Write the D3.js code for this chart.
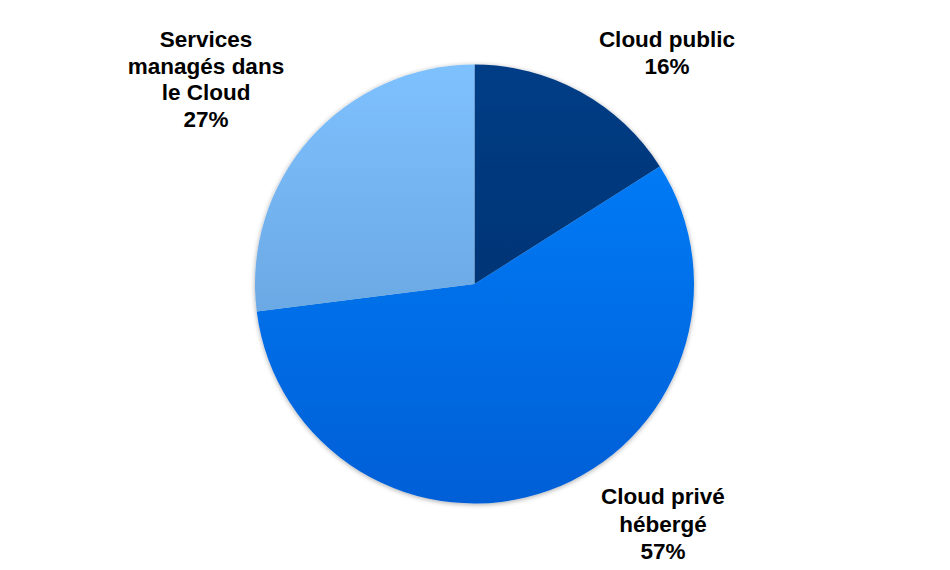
<!DOCTYPE html>
<html><head><meta charset="utf-8">
<script src="https://cdn.jsdelivr.net/npm/d3@7"></script>
<style>body{margin:0;background:#fff}svg{display:block}</style>
</head><body><svg id="c" width="950" height="570"></svg>
<script>
const categories = ["Cloud public", "Cloud privé hébergé", "Services managés dans le Cloud"];
const values = [16, 57, 27];
const labelLines = [["Cloud public","16%"],["Cloud privé","hébergé","57%"],["Services","managés dans","le Cloud","27%"]];
const colorTop = ["#003d86", "#0082ff", "#7ec1ff"];
const colorBottom = ["#002c66", "#005fd6", "#5c96cf"];

const svg = d3.select("#c");
const cx = 474.5, cy = 284, r = 219.5;
const defs = svg.append("defs");
const f = defs.append("filter").attr("id","sh").attr("x","-10%").attr("y","-10%").attr("width","120%").attr("height","120%");
f.append("feGaussianBlur").attr("in","SourceAlpha").attr("stdDeviation",2.5).attr("result","b");
f.append("feOffset").attr("in","b").attr("dx",0).attr("dy",1).attr("result","o");
f.append("feComponentTransfer").attr("in","o").attr("result","o2").append("feFuncA").attr("type","linear").attr("slope",0.35);
const m = f.append("feMerge"); m.append("feMergeNode").attr("in","o2"); m.append("feMergeNode").attr("in","SourceGraphic");

categories.forEach((c,i)=>{
  const g = defs.append("linearGradient").attr("id","g"+i).attr("gradientUnits","userSpaceOnUse")
    .attr("x1",0).attr("y1",-r).attr("x2",0).attr("y2",r);
  g.append("stop").attr("offset","0%").attr("stop-color",colorTop[i]);
  g.append("stop").attr("offset","100%").attr("stop-color",colorBottom[i]);
});

const pie = d3.pie().sort(null).value(d=>d)(values);
const arc = d3.arc().innerRadius(0).outerRadius(r);
const gp = svg.append("g").attr("transform",`translate(${cx},${cy})`).attr("filter","url(#sh)");
gp.selectAll("path").data(pie).join("path")
  .attr("d",arc)
  .attr("fill",(d,i)=>`url(#g${i})`);

const labelPos = [[667,47],[663,504],[206,47]];
const lineH = [26.5, 27.5, 26.5];
labelLines.forEach((lines,i)=>{
  const t = svg.append("text").attr("text-anchor","middle")
    .attr("font-family","Liberation Sans, Arial, sans-serif").attr("font-weight","bold")
    .attr("font-size",22.5).attr("fill","#000");
  lines.forEach((l,j)=>t.append("tspan").attr("x",labelPos[i][0]).attr("y",labelPos[i][1]+j*lineH[i]).text(l));
});
</script></body></html>
